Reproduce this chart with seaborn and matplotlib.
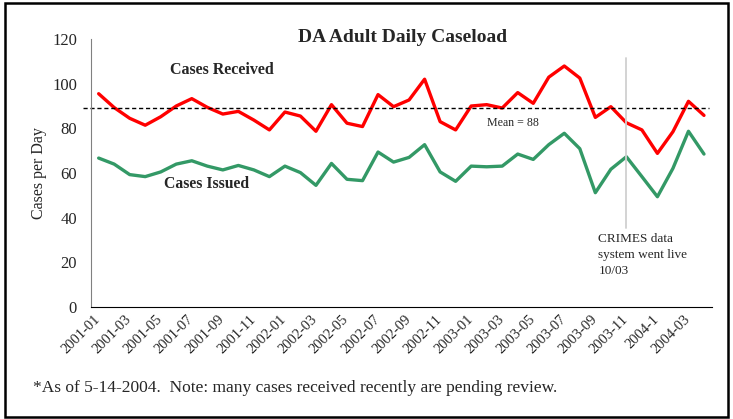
import numpy as np
import pandas as pd
import matplotlib
matplotlib.use("Agg")
import matplotlib.pyplot as plt
import matplotlib.transforms as mtransforms
import seaborn as sns
from matplotlib.patches import Rectangle

# monthly values, 2001-01 .. 2004-04
received = [95.5, 89.3, 84.5, 81.4, 85.2, 90.0, 93.3, 89.4, 86.4, 87.6,
            83.7, 79.3, 87.3, 85.5, 78.7, 90.6, 82.3, 80.8, 95.1, 89.7,
            92.7, 102.0, 83.0, 79.3, 90.0, 90.6, 89.1, 96.0, 91.2, 102.9,
            107.9, 102.5, 84.9, 89.7, 82.5, 79.3, 68.8, 78.5, 92.1, 85.8]
issued = [66.7, 64.0, 59.3, 58.4, 60.5, 64.0, 65.5, 63.1, 61.4, 63.4,
          61.4, 58.4, 63.1, 60.2, 54.5, 64.3, 57.2, 56.6, 69.4, 64.9,
          67.0, 72.7, 60.5, 56.3, 63.1, 62.8, 63.1, 68.5, 66.1, 72.7,
          77.8, 70.9, 51.2, 61.7, 67.3, 58.4, 49.4, 62.1, 78.7, 68.5]
tick_labels = ["2001-01", "2001-03", "2001-05", "2001-07", "2001-09", "2001-11",
               "2002-01", "2002-03", "2002-05", "2002-07", "2002-09", "2002-11",
               "2003-01", "2003-03", "2003-05", "2003-07", "2003-09", "2003-11",
               "2004-1", "2004-03"]
mean_level = 89
mean_text = "Mean = 88"
crimes_month = 34  # index of 2003-11

df = pd.DataFrame({"month": np.arange(len(received)),
                   "received": received, "issued": issued})

sns.set_style("white")
plt.rcParams["font.family"] = ["Liberation Serif", "DejaVu Serif"]

fig = plt.figure(figsize=(7.33, 4.19), dpi=100)
ax = fig.add_axes([0.124, 0.267, 0.847, 0.640])

sns.lineplot(data=df, x="month", y="received", color="#ff0000", lw=2.4, ax=ax)
sns.lineplot(data=df, x="month", y="issued", color="#339966", lw=2.4, ax=ax)

ax.set_xlim(-0.5, len(received) - 0.5)
ax.set_ylim(0, 120)
ax.set_yticks(range(0, 121, 20))
ax.tick_params(axis="y", labelsize=12, length=0, pad=10)
ax.set_xticks(df["month"][::2])
ax.set_xticklabels(tick_labels, rotation=45, ha="right", rotation_mode="anchor",
                   fontsize=10.5)
ax.tick_params(axis="x", length=0, pad=4)
shift = mtransforms.ScaledTranslation(-5 / 100, 0, fig.dpi_scale_trans)
for lab in ax.get_xticklabels():
    lab.set_transform(lab.get_transform() + shift)
ax.set_xlabel("")
ax.set_ylabel("Cases per Day", fontsize=11.5, labelpad=-2)
ax.yaxis.set_label_coords(-0.07, 0.5)

for s in ["top", "right"]:
    ax.spines[s].set_visible(False)
ax.spines["left"].set_color("#808080")
ax.spines["bottom"].set_color("black")

# mean line
ax.plot([-1.0, 39.3], [mean_level, mean_level], ls=(0, (3, 2)), color="black",
        lw=1.0, clip_on=False)
ax.text(25.0, 82.4, mean_text, fontsize=8.6, ha="left", va="center")

# CRIMES marker
ax.plot([crimes_month, crimes_month], [35.5, 111.5], color="#d0d0d0", lw=1.3)
ax.text(32.2, 33, "CRIMES data\nsystem went live\n10/03", fontsize=9.5,
        va="top", ha="left", linespacing=1.45)

ax.text(4.6, 106, "Cases Received", fontsize=11.5, fontweight="bold", va="center")
ax.text(4.2, 55, "Cases Issued", fontsize=11.3, fontweight="bold", va="center")

fig.text(0.549, 0.910, "DA Adult Daily Caseload", fontsize=14, fontweight="bold",
         ha="center", va="center")
fig.text(0.045, 0.073, "*As of 5-14-2004.  Note: many cases received recently are pending review.",
         fontsize=12.5, ha="left", va="center")

fig.patches.append(Rectangle((5 / 733, 1 - 417 / 419), 723 / 733, 414 / 419,
                             transform=fig.transFigure, fill=False,
                             edgecolor="black", lw=1.8))

fig.savefig("out.png", dpi=100)
